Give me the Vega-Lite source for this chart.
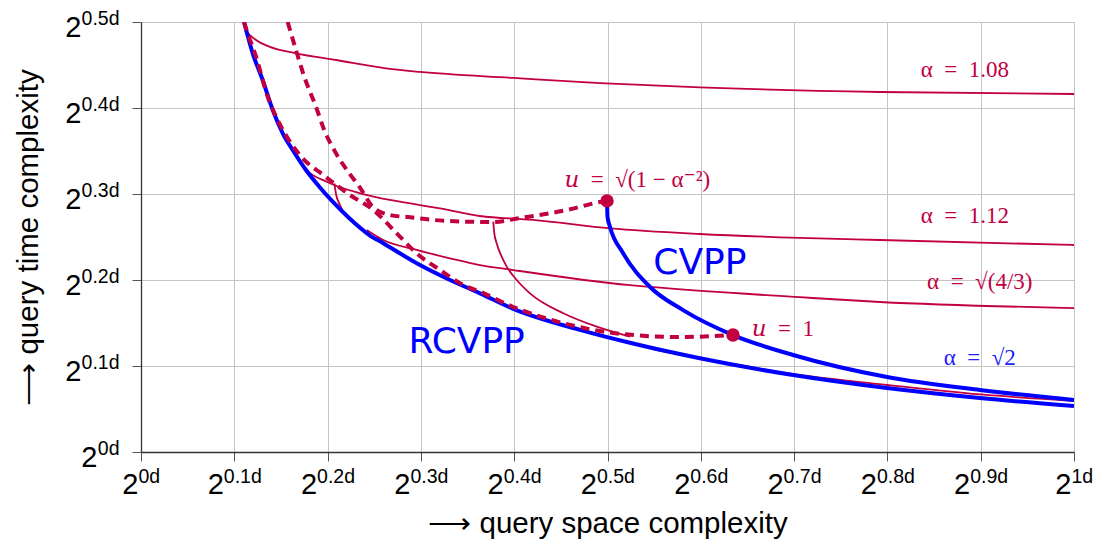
{
  "$schema": "https://vega.github.io/schema/vega-lite/v6.json",
  "width": 933,
  "height": 430,
  "autosize": {"type": "none"},
  "padding": {"left": 141, "top": 22, "right": 20, "bottom": 88},
  "background": "white",
  "view": {"stroke": null},
  "config": {
    "font": "Liberation Sans",
    "axis": {
      "gridColor": "#c4c4c4",
      "gridWidth": 1,
      "domainColor": "#333333",
      "domainWidth": 1.3,
      "tickColor": "#555555",
      "tickSize": 9,
      "labelFont": "Liberation Sans",
      "labelColor": "black",
      "labelFlush": false,
      "labelOverlap": false,
      "titleFont": "Liberation Sans",
      "titleFontSize": 29.5,
      "titleFontWeight": "normal",
      "titleColor": "black"
    }
  },
  "datasets": {
    "blue": [
      {"s": "RCVPP", "x": 0.1104, "y": 0.5},
      {"s": "RCVPP", "x": 0.1197, "y": 0.4636},
      {"s": "RCVPP", "x": 0.1304, "y": 0.4326},
      {"s": "RCVPP", "x": 0.1412, "y": 0.3977},
      {"s": "RCVPP", "x": 0.1519, "y": 0.3706},
      {"s": "RCVPP", "x": 0.1626, "y": 0.3512},
      {"s": "RCVPP", "x": 0.1768, "y": 0.3279},
      {"s": "RCVPP", "x": 0.1911, "y": 0.3085},
      {"s": "RCVPP", "x": 0.2055, "y": 0.291},
      {"s": "RCVPP", "x": 0.2233, "y": 0.2717},
      {"s": "RCVPP", "x": 0.2447, "y": 0.2523},
      {"s": "RCVPP", "x": 0.2597, "y": 0.2427},
      {"s": "RCVPP", "x": 0.299, "y": 0.2174},
      {"s": "RCVPP", "x": 0.3312, "y": 0.2},
      {"s": "RCVPP", "x": 0.3633, "y": 0.1845},
      {"s": "RCVPP", "x": 0.399, "y": 0.1665},
      {"s": "RCVPP", "x": 0.4705, "y": 0.142},
      {"s": "RCVPP", "x": 0.524, "y": 0.127},
      {"s": "RCVPP", "x": 0.599, "y": 0.109},
      {"s": "RCVPP", "x": 0.699, "y": 0.0895},
      {"s": "RCVPP", "x": 0.7996, "y": 0.0744},
      {"s": "RCVPP", "x": 0.899, "y": 0.0628},
      {"s": "RCVPP", "x": 1.0, "y": 0.0535},
      {"s": "CVPP", "x": 0.4995, "y": 0.292},
      {"s": "CVPP", "x": 0.5, "y": 0.2736},
      {"s": "CVPP", "x": 0.5027, "y": 0.2616},
      {"s": "CVPP", "x": 0.5166, "y": 0.2314},
      {"s": "CVPP", "x": 0.5456, "y": 0.1919},
      {"s": "CVPP", "x": 0.581, "y": 0.165},
      {"s": "CVPP", "x": 0.6345, "y": 0.136},
      {"s": "CVPP", "x": 0.699, "y": 0.1128},
      {"s": "CVPP", "x": 0.7996, "y": 0.0872},
      {"s": "CVPP", "x": 0.899, "y": 0.0721},
      {"s": "CVPP", "x": 1.0, "y": 0.0605}
    ],
    "dashed": [
      {"s": "u1", "x": 0.1104, "y": 0.5},
      {"s": "u1", "x": 0.1143, "y": 0.4869},
      {"s": "u1", "x": 0.1233, "y": 0.4597},
      {"s": "u1", "x": 0.1358, "y": 0.4131},
      {"s": "u1", "x": 0.1465, "y": 0.386},
      {"s": "u1", "x": 0.1608, "y": 0.3589},
      {"s": "u1", "x": 0.1733, "y": 0.3415},
      {"s": "u1", "x": 0.1954, "y": 0.3221},
      {"s": "u1", "x": 0.224, "y": 0.2988},
      {"s": "u1", "x": 0.249, "y": 0.2814},
      {"s": "u1", "x": 0.2741, "y": 0.2543},
      {"s": "u1", "x": 0.2955, "y": 0.231},
      {"s": "u1", "x": 0.3205, "y": 0.2116},
      {"s": "u1", "x": 0.3491, "y": 0.1922},
      {"s": "u1", "x": 0.3633, "y": 0.1864},
      {"s": "u1", "x": 0.399, "y": 0.1686},
      {"s": "u1", "x": 0.452, "y": 0.15},
      {"s": "u1", "x": 0.506, "y": 0.1384},
      {"s": "u1", "x": 0.578, "y": 0.1337},
      {"s": "u1", "x": 0.6345, "y": 0.136},
      {"s": "us", "x": 0.1572, "y": 0.5},
      {"s": "us", "x": 0.1661, "y": 0.4674},
      {"s": "us", "x": 0.175, "y": 0.4364},
      {"s": "us", "x": 0.1875, "y": 0.4015},
      {"s": "us", "x": 0.1964, "y": 0.3744},
      {"s": "us", "x": 0.209, "y": 0.3473},
      {"s": "us", "x": 0.2232, "y": 0.3241},
      {"s": "us", "x": 0.234, "y": 0.3085},
      {"s": "us", "x": 0.2483, "y": 0.2852},
      {"s": "us", "x": 0.2669, "y": 0.2756},
      {"s": "us", "x": 0.2883, "y": 0.2729},
      {"s": "us", "x": 0.3133, "y": 0.2698},
      {"s": "us", "x": 0.3491, "y": 0.2678},
      {"s": "us", "x": 0.3773, "y": 0.2674},
      {"s": "us", "x": 0.406, "y": 0.272},
      {"s": "us", "x": 0.4566, "y": 0.2814},
      {"s": "us", "x": 0.492, "y": 0.2907},
      {"s": "us", "x": 0.4995, "y": 0.292}
    ],
    "thin": [
      {"s": "a108", "x": 0.1112, "y": 0.496},
      {"s": "a108", "x": 0.1125, "y": 0.4907},
      {"s": "a108", "x": 0.1233, "y": 0.4791},
      {"s": "a108", "x": 0.1375, "y": 0.4713},
      {"s": "a108", "x": 0.1661, "y": 0.4636},
      {"s": "a108", "x": 0.209, "y": 0.4558},
      {"s": "a108", "x": 0.2626, "y": 0.4461},
      {"s": "a108", "x": 0.299, "y": 0.4419},
      {"s": "a108", "x": 0.399, "y": 0.435},
      {"s": "a108", "x": 0.492, "y": 0.429},
      {"s": "a108", "x": 0.599, "y": 0.424},
      {"s": "a108", "x": 0.792, "y": 0.4186},
      {"s": "a108", "x": 1.0, "y": 0.4163},
      {"s": "a112", "x": 0.168, "y": 0.342},
      {"s": "a112", "x": 0.1776, "y": 0.3279},
      {"s": "a112", "x": 0.199, "y": 0.3143},
      {"s": "a112", "x": 0.2347, "y": 0.3008},
      {"s": "a112", "x": 0.2776, "y": 0.291},
      {"s": "a112", "x": 0.3205, "y": 0.2834},
      {"s": "a112", "x": 0.3633, "y": 0.2744},
      {"s": "a112", "x": 0.42, "y": 0.27},
      {"s": "a112", "x": 0.503, "y": 0.26},
      {"s": "a112", "x": 0.599, "y": 0.2535},
      {"s": "a112", "x": 0.706, "y": 0.249},
      {"s": "a112", "x": 0.792, "y": 0.2465},
      {"s": "a112", "x": 1.0, "y": 0.2407},
      {"s": "a112b", "x": 0.2073, "y": 0.3124},
      {"s": "a112b", "x": 0.209, "y": 0.3},
      {"s": "a112b", "x": 0.2133, "y": 0.2872},
      {"s": "a112b", "x": 0.2176, "y": 0.2779},
      {"s": "a43", "x": 0.2419, "y": 0.2581},
      {"s": "a43", "x": 0.2597, "y": 0.2465},
      {"s": "a43", "x": 0.2955, "y": 0.2349},
      {"s": "a43", "x": 0.3312, "y": 0.2252},
      {"s": "a43", "x": 0.3633, "y": 0.2174},
      {"s": "a43", "x": 0.399, "y": 0.2116},
      {"s": "a43", "x": 0.524, "y": 0.194},
      {"s": "a43", "x": 0.5456, "y": 0.1919},
      {"s": "a43", "x": 0.706, "y": 0.18},
      {"s": "a43", "x": 0.792, "y": 0.1744},
      {"s": "a43", "x": 1.0, "y": 0.1674},
      {"s": "a43b", "x": 0.3776, "y": 0.2678},
      {"s": "a43b", "x": 0.3787, "y": 0.2543},
      {"s": "a43b", "x": 0.3812, "y": 0.2427},
      {"s": "a43b", "x": 0.3866, "y": 0.2271},
      {"s": "a43b", "x": 0.392, "y": 0.2155},
      {"s": "a43b", "x": 0.4027, "y": 0.2},
      {"s": "a43b", "x": 0.4169, "y": 0.1845},
      {"s": "a43b", "x": 0.4527, "y": 0.1613},
      {"s": "a43b", "x": 0.4885, "y": 0.1457},
      {"s": "a43b", "x": 0.5241, "y": 0.1341},
      {"s": "a2", "x": 0.55, "y": 0.119},
      {"s": "a2", "x": 0.6, "y": 0.109},
      {"s": "a2", "x": 0.7, "y": 0.0905},
      {"s": "a2", "x": 0.8, "y": 0.0779},
      {"s": "a2", "x": 0.9, "y": 0.0669},
      {"s": "a2", "x": 1.0, "y": 0.0593}
    ],
    "dots": [
      {"x": 0.4995, "y": 0.292},
      {"x": 0.6345, "y": 0.136}
    ],
    "redlabels": [
      {"t": "𝑢\u2002=\u2002√(1 − α⁻²)", "x": 0.532, "y": 0.316},
      {"t": "𝑢\u2002=\u20021", "x": 0.688, "y": 0.143},
      {"t": "α\u2002=\u20021.08", "x": 0.883, "y": 0.444},
      {"t": "α\u2002=\u20021.12", "x": 0.883, "y": 0.2744},
      {"t": "α\u2002=\u2002√(4/3)", "x": 0.899, "y": 0.198}
    ],
    "bluelabels": [
      {"t": "α\u2002=\u2002√2", "x": 0.899, "y": 0.109}
    ],
    "names": [
      {"t": "CVPP", "x": 0.599, "y": 0.22},
      {"t": "RCVPP", "x": 0.349, "y": 0.128}
    ]
  },
  "layer": [
    {
      "encoding": {
        "x": {
          "field": "x", "type": "quantitative",
          "scale": {"domain": [0, 1], "nice": false, "zero": false},
          "axis": {
            "orient": "bottom",
            "grid": true,
            "values": [0, 0.1, 0.2, 0.3, 0.4, 0.5, 0.6, 0.7, 0.8, 0.9, 1],
            "labelExpr": "'2'",
            "labelFontSize": 29,
            "labelAlign": "right",
            "labelBaseline": "alphabetic",
            "labelPadding": 32,
            "labelOffset": {"condition": {"test": "datum.value == 0 || datum.value == 1", "value": -3}, "value": -11},
            "title": "⟶ query space complexity",
            "titlePadding": 10
          }
        },
        "y": {
          "field": "y", "type": "quantitative",
          "scale": {"domain": [0, 0.5], "nice": false, "zero": false},
          "axis": {
            "orient": "left",
            "grid": true,
            "values": [0, 0.1, 0.2, 0.3, 0.4, 0.5],
            "labelExpr": "'2'",
            "labelFontSize": 29,
            "labelAlign": "right",
            "labelBaseline": "alphabetic",
            "labelOffset": 14,
            "labelPadding": {"condition": {"test": "datum.value == 0", "value": 35}, "value": 51},
            "title": "⟶ query time complexity",
            "titlePadding": 21
          }
        }
      },
      "layer": [
        {
          "data": {"name": "thin"},
          "mark": {"type": "line", "color": "#c2003f", "strokeWidth": 1.8, "interpolate": "monotone", "clip": true},
          "encoding": {"detail": {"field": "s"}}
        },
        {
          "data": {"name": "blue"},
          "mark": {"type": "line", "color": "#0000ff", "strokeWidth": 4, "interpolate": "monotone", "clip": true},
          "encoding": {"detail": {"field": "s"}}
        },
        {
          "data": {"name": "dashed"},
          "mark": {"type": "line", "color": "#c2003f", "strokeWidth": 4, "strokeDash": [9, 6], "interpolate": "monotone", "clip": true},
          "encoding": {"detail": {"field": "s"}}
        },
        {
          "data": {"name": "dots"},
          "mark": {"type": "circle", "color": "#c2003f", "size": 180, "opacity": 1}
        },
        {
          "data": {"name": "redlabels"},
          "mark": {"type": "text", "color": "#c2003f", "font": "Liberation Serif, DejaVu Serif", "fontSize": 23, "baseline": "middle", "align": "center"},
          "encoding": {"text": {"field": "t"}}
        },
        {
          "data": {"name": "bluelabels"},
          "mark": {"type": "text", "color": "#2020ff", "font": "Liberation Serif, DejaVu Serif", "fontSize": 23, "baseline": "middle", "align": "center"},
          "encoding": {"text": {"field": "t"}}
        },
        {
          "data": {"name": "names"},
          "mark": {"type": "text", "color": "#0000ff", "font": "DejaVu Sans", "fontSize": 36, "baseline": "middle", "align": "center"},
          "encoding": {"text": {"field": "t"}}
        }
      ]
    },
    {
      "data": {"name": "dots"},
      "mark": {"type": "point", "opacity": 0},
      "encoding": {
        "x": {
          "field": "x", "type": "quantitative",
          "scale": {"domain": [0, 1], "nice": false, "zero": false},
          "axis": {
            "orient": "bottom",
            "grid": false,
            "domain": false,
            "tickOpacity": 0,
            "values": [0, 0.1, 0.2, 0.3, 0.4, 0.5, 0.6, 0.7, 0.8, 0.9, 1],
            "labelExpr": "datum.value == 0 ? '0d' : (datum.value == 1 ? '1d' : format(datum.value, '.1f') + 'd')",
            "labelFontSize": 19.5,
            "labelAlign": "left",
            "labelBaseline": "alphabetic",
            "labelPadding": 21,
            "labelOffset": {"condition": {"test": "datum.value == 0 || datum.value == 1", "value": -3}, "value": -11},
            "title": null
          }
        },
        "y": {
          "field": "y", "type": "quantitative",
          "scale": {"domain": [0, 0.5], "nice": false, "zero": false},
          "axis": {
            "orient": "left",
            "grid": false,
            "domain": false,
            "tickOpacity": 0,
            "values": [0, 0.1, 0.2, 0.3, 0.4, 0.5],
            "labelExpr": "datum.value == 0 ? '0d' : format(datum.value, '.1f') + 'd'",
            "labelFontSize": 19.5,
            "labelAlign": "right",
            "labelBaseline": "alphabetic",
            "labelOffset": 2.5,
            "labelPadding": 13,
            "title": null
          }
        }
      }
    }
  ],
  "resolve": {"axis": {"x": "independent", "y": "independent"}}
}
